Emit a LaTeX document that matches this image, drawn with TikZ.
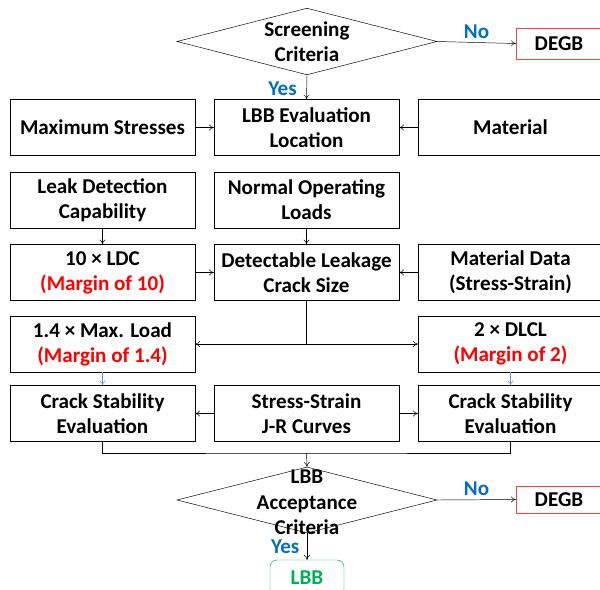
\documentclass[tikz,border=0pt]{standalone}
\usepackage{fontspec}
\setmainfont{Carlito}
\usepackage{xcolor}
\usetikzlibrary{arrows.meta,shapes.geometric}
\definecolor{yesno}{RGB}{0,112,192}
\definecolor{lbbgreen}{RGB}{0,176,80}
\definecolor{thinblue}{RGB}{91,155,213}

\begin{document}
\begin{tikzpicture}[x=0.03cm,y=-0.03cm,
    every node/.style={font=\fontsize{18}{21.5}\selectfont\bfseries},
    box/.style={draw,thin,align=center,minimum width=5.55cm,minimum height=1.68cm,inner sep=0pt},
    dec/.style={diamond,draw,thin,minimum width=7.8cm,minimum height=2.0cm,inner sep=0pt},
    deg/.style={draw=red!75,thin,minimum width=2.58cm,inner sep=0pt},
    ans/.style={text=yesno},
    arr/.style={->,>={To[length=4pt,width=5pt]}}]
                \useasboundingbox (0,0) rectangle (600,589);
                % screening
                \node[dec,label={[align=center]center:Screening\\Criteria}] (scr) at (307,41.5) {};
                \node[deg,minimum height=0.93cm] (degb1) at (559,43.5) {DEGB};
                \draw[thin,arr] (scr.east) -- node[above,ans] {No} (degb1.west);
                % first row
                \node[box] (maxs) at (102.5,127.5) {Maximum Stresses};
                \node[box] (loc) at (306.5,127.5) {LBB Evaluation\\Location};
                \node[box] (mat) at (510.5,127.5) {Material};
                \draw[thin,arr] (scr.south) -- node[left,pos=0.55,xshift=-5pt,ans] {Yes} (loc.north);
                \draw[thin,arr] (maxs) -- (loc);
                \draw[thin,arr] (mat) -- (loc);
                % second row
                \node[box] (ldc) at (102.5,200) {Leak Detection\\Capability};
                \node[box] (nol) at (306.5,200) {Normal Operating\\Loads};
                % third row
                \node[box] (ldc10) at (102.5,272.5) {10 × LDC\\\textcolor{red}{(Margin of 10)}};
                \node[box] (dlcs) at (306.5,272.5) {Detectable Leakage\\Crack Size};
                \node[box] (matd) at (510.5,272.5) {Material Data\\(Stress-Strain)};
                \draw[thin,arr] (ldc) -- (ldc10);
                \draw[thin,arr] (nol) -- (dlcs);
                \draw[thin,arr] (ldc10) -- (dlcs);
                \draw[thin,arr] (matd) -- (dlcs);
                % fourth row
                \node[box] (load) at (102.5,344) {1.4 × Max. Load\\\textcolor{red}{(Margin of 1.4)}};
                \node[box] (dlcl) at (510.5,344) {2 × DLCL\\\textcolor{red}{(Margin of 2)}};
                \coordinate (split) at (306.5,344);
                \draw[thin] (dlcs.south) -- (split);
                \draw[thin,arr] (split) -- (load.east);
                \draw[thin,arr] (split) -- (dlcl.west);
                % fifth row
                \node[box] (csa) at (102.5,413.5) {Crack Stability\\Evaluation};
                \node[box] (jr) at (306.5,413.5) {Stress-Strain\\J-R Curves};
                \node[box] (csb) at (510.5,413.5) {Crack Stability\\Evaluation};
                \draw[thin,thinblue,arr] (load) -- (csa);
                \draw[thin,thinblue,arr] (dlcl) -- (csb);
                \draw[thin,arr] (jr) -- (csa);
                \draw[thin,arr] (jr) -- (csb);
                % acceptance
                \node[dec,minimum height=1.98cm,label={[align=center,yshift=-2pt]center:LBB\\Acceptance\\Criteria}] (acc) at (307,500) {};
                \coordinate (join) at (306.5,453);
                \draw[thin] (csa.south) |- (join) -| (csb.south);
                \draw[thin,arr] (join) -- (acc.north);
                \node[deg,minimum height=0.81cm] (degb2) at (559,499.5) {DEGB};
                \draw[thin,arr] (acc.east) -- node[above,ans] {No} (degb2.west);
                \node[draw=lbbgreen,thin,rounded corners=6pt,text=lbbgreen,minimum width=2.22cm,minimum height=1.08cm] (lbb) at (307,578) {LBB};
                \draw[thin,arr] (acc.south) -- node[left,pos=0.5,xshift=-3pt,ans] {Yes} (lbb.north);
              \end{tikzpicture}
\end{document}
